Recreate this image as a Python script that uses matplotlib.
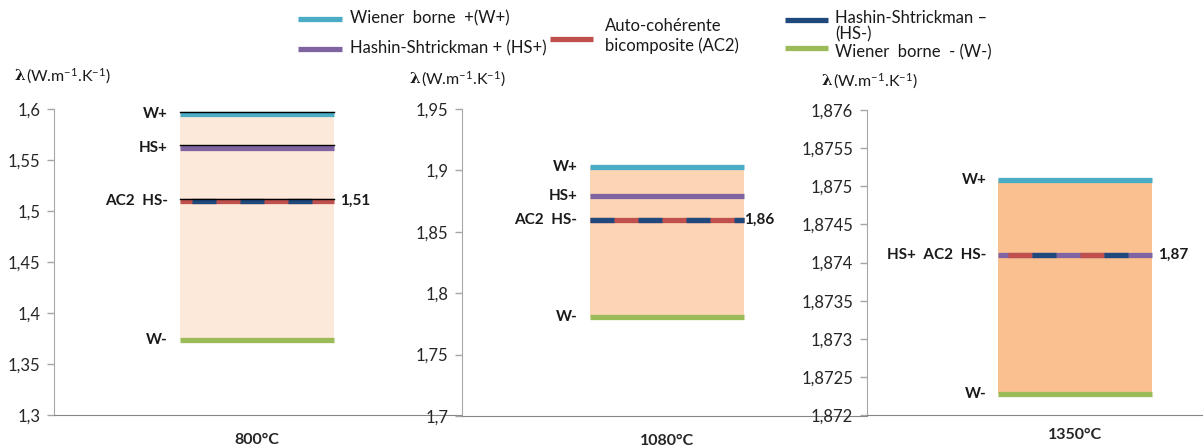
import matplotlib
matplotlib.use("Agg")
import matplotlib.pyplot as plt
from matplotlib.lines import Line2D
from matplotlib import transforms

plt.rcParams['font.family'] = ['Lato', 'DejaVu Sans']
plt.rcParams['mathtext.fontset'] = 'custom'
plt.rcParams['mathtext.rm'] = 'Lato'
plt.rcParams['mathtext.it'] = 'Lato:italic'
plt.rcParams['mathtext.bf'] = 'Lato:bold'
plt.rcParams['lines.scale_dashes'] = False

# ---- data ----
temperatures = ['800°C', '1080°C', '1350°C']
w_plus = [1.595, 1.903, 1.87508]     # Wiener upper bound
hs_plus = [1.562, 1.879, 1.8741]     # Hashin-Shtrickman upper bound
ac2 = [1.51, 1.86, 1.8741]           # self-consistent two-phase model
hs_minus = [1.51, 1.86, 1.8741]      # Hashin-Shtrickman lower bound
w_minus = [1.374, 1.781, 1.87228]    # Wiener lower bound
y_limits = [(1.3, 1.6), (1.7, 1.95), (1.872, 1.876)]
y_steps = [0.05, 0.05, 0.0005]

series_names = ['W+', 'HS+', 'AC2', 'HS-', 'W-']
series_colors = ['#4bacc6', '#8064a2', '#c0504d', '#1f497d', '#9bbb59']
legend_labels = ['Wiener  borne  +(W+)', 'Hashin-Shtrickman + (HS+)',
                 'Auto-cohérente\nbicomposite (AC2)', 'Hashin-Shtrickman –\n(HS-)',
                 'Wiener  borne  - (W-)']

# ---- layout (pixels) ----
W, H = 1203, 448
fig = plt.figure(figsize=(W / 100, H / 100), dpi=100)


def fx(x):
    return x / W


def fy(y):
    return 1 - y / H


panel_px = [(54, 462, 109, 415), (462, 867, 109, 416), (867, 1203, 110, 415)]
bar_centers = [0.4975, 0.505, 0.62]
bar_px = 154
fills = ['#fde9d9', '#fcd5b5', '#fac090']
dash_phase = [12, 0, 10]
top_edge = [True, False, False]
ylabel_pos = [(14, 76), (409, 79), (821, 81)]
lw = 3.8
dash_px = 24
tick_fs = 12
label_fs = 11
legend_fs = 12

for i in range(3):
    l, r, t, b = panel_px[i]
    ax = fig.add_axes([fx(l), fy(b), fx(r - l), (b - t) / H])
    ax.set_xlim(0, 1)
    lo, hi = y_limits[i]
    ax.set_ylim(lo, hi)
    n = int(round((hi - lo) / y_steps[i]))
    ticks = [lo + k * y_steps[i] for k in range(n + 1)]
    ax.set_yticks(ticks)
    ax.set_yticklabels([('%g' % round(v, 6)).replace('.', ',') for v in ticks])
    ax.tick_params(axis='y', length=5, width=1, color='#a6a6a6', pad=5,
                   labelsize=tick_fs, labelcolor='#262626')
    ax.set_xticks([bar_centers[i]])
    ax.set_xticklabels([temperatures[i]], fontweight='bold', fontsize=11.5,
                       color='#262626')
    ax.tick_params(axis='x', length=0, pad=13 if i < 2 else 9)
    for s in ('top', 'right'):
        ax.spines[s].set_visible(False)
    ax.spines['left'].set_color('#a6a6a6')
    ax.spines['bottom'].set_color('#868686')
    ax.patch.set_alpha(0)

    half = bar_px / 2 / (r - l)
    x0, x1 = bar_centers[i] - half, bar_centers[i] + half

    vals = [w_plus[i], hs_plus[i], ac2[i], hs_minus[i], w_minus[i]]
    ax.fill_between([x0, x1], min(vals), max(vals), color=fills[i], lw=0, zorder=1)

    # group series that share the same value
    groups = []
    for k, v in enumerate(vals):
        for g in groups:
            if abs(vals[g[0]] - v) < 1e-9:
                g.append(k)
                break
        else:
            groups.append([k])

    up = transforms.offset_copy(ax.transData, fig=fig, x=0, y=2.3, units='dots')
    for g in groups:
        v = vals[g[0]]
        m = len(g)
        period = m * dash_px
        ax.plot([x0, x1], [v, v], color=series_colors[g[0]], lw=lw,
                solid_capstyle='butt', zorder=3)
        for j, k in enumerate(g[1:]):
            start = dash_phase[i] + j * dash_px
            offset = ((period - start) % period) * 0.72
            ax.plot([x0, x1], [v, v], color=series_colors[k], lw=lw,
                    dash_capstyle='butt',
                    linestyle=(offset, (dash_px * 0.72, (period - dash_px) * 0.72)),
                    zorder=4)
        if top_edge[i] and series_names[g[0]] != 'W-':
            ax.plot([x0, x1], [v, v], color='black', lw=1.0, transform=up, zorder=5)
        label = '  '.join(series_names[k] for k in g)
        ax.annotate(label, (x0, v), xytext=(-12, 0), textcoords='offset pixels',
                    ha='right', va='center', fontsize=label_fs, fontweight='bold',
                    color='#1a1a1a')
        if 'AC2' in [series_names[k] for k in g]:
            ax.annotate(('%.2f' % hs_minus[i]).replace('.', ','), (x1, v),
                        xytext=(6 if i != 1 else 1, 0), textcoords='offset pixels',
                        ha='left', va='center', fontsize=label_fs, fontweight='bold',
                        color='#1a1a1a')

    # axis title
    px, py = ylabel_pos[i]
    fig.text(fx(px), fy(py), 'λ', family='DejaVu Serif', fontweight='bold',
             fontsize=11, va='center', ha='left', color='#1a1a1a')
    fig.text(fx(px + 12), fy(py), r'(W.m$^{-1}$.K$^{-1}$)', fontsize=11.5,
             va='center', ha='left', color='#1a1a1a')

# ---- legend ----
swatches = [(298, 342, 19), (298, 342, 49), (550, 593, 39), (785, 828, 20), (785, 828, 48)]
text_pos = [(350, 18), (350, 48), (605, 36), (835, 26), (835, 52)]
spacing = [1.2, 1.2, 1.3, 1.0, 1.2]
for k in range(5):
    a, b2, y = swatches[k]
    fig.add_artist(Line2D([fx(a), fx(b2)], [fy(y), fy(y)], color=series_colors[k],
                          lw=3.8, solid_capstyle='butt', transform=fig.transFigure))
    tx, ty = text_pos[k]
    fig.text(fx(tx), fy(ty), legend_labels[k], fontsize=legend_fs, va='center',
             ha='left', color='#1a1a1a', linespacing=spacing[k])

fig.savefig('out.png', dpi=100)
